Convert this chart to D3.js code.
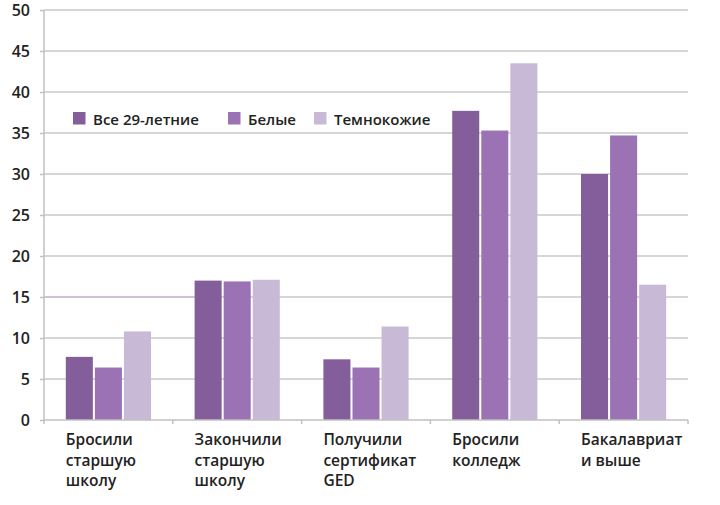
<!DOCTYPE html>
<html><head><meta charset="utf-8">
<script src="https://cdn.jsdelivr.net/npm/d3@7"></script>
<style>
html,body{margin:0;padding:0;background:#fff;}
svg{display:block;font-family:"Open Sans",sans-serif;}
</style></head>
<body><svg id="c" width="720" height="505"></svg>
<script>
const categories = [
  ["Бросили","старшую","школу"],
  ["Закончили","старшую","школу"],
  ["Получили","сертификат","GED"],
  ["Бросили","колледж"],
  ["Бакалавриат","и выше"]
];
const seriesNames = ["Все 29-летние","Белые","Темнокожие"];
const allValues   = [7.7, 17.0, 7.4, 37.7, 30.0];
const whiteValues = [6.4, 16.9, 6.4, 35.3, 34.7];
const blackValues = [10.8, 17.1, 11.4, 43.5, 16.5];
const yTicks = [0,5,10,15,20,25,30,35,40,45,50];
const colors = ["#845e9b","#9b73b5","#c8b9d7"];

const svg = d3.select("#c");
const L = 44, R = 688, T = 10, B = 420;
const catKeys = categories.map((c,i)=>i);
const x0 = d3.scaleBand().domain(catKeys).range([L,R]).padding(0);
const x1 = d3.scaleBand().domain(d3.range(3)).range([0,x0.bandwidth()]).paddingInner(0.07).paddingOuter(0.75);
const y = d3.scaleLinear().domain([0,50]).range([B,T]);
const seriesVals = [allValues, whiteValues, blackValues];

// gridlines
svg.append("g").selectAll("line").data(yTicks.filter(d=>d>0)).join("line")
  .attr("x1",L).attr("x2",R).attr("y1",d=>y(d)).attr("y2",d=>y(d))
  .attr("stroke","#c9c9c9").attr("stroke-width",1.5);
// lavender segment on 15 line
svg.append("line").attr("x1",L).attr("x2",x0(1)+x1(0)).attr("y1",y(15)).attr("y2",y(15))
  .attr("stroke","#cdbbd9").attr("stroke-width",1.5);

// bars
const g = svg.append("g");
catKeys.forEach(ci=>{
  seriesVals.forEach((vals,si)=>{
    g.append("rect").attr("x",x0(ci)+x1(si)).attr("width",x1.bandwidth())
      .attr("y",y(vals[ci])).attr("height",y(0)-y(vals[ci])).attr("fill",colors[si]);
  });
});

// y axis
const yAx = svg.append("g").attr("transform",`translate(${L},0)`)
  .call(d3.axisLeft(y).tickValues(yTicks).tickSize(4).tickPadding(10).tickFormat(d3.format("d")));
yAx.select(".domain").attr("stroke","#c0c0c0").attr("stroke-width",1.5).attr("d",`M0,${T}V${B}`);
yAx.selectAll(".tick line").attr("stroke","#c0c0c0").attr("stroke-width",1.5);
yAx.selectAll(".tick text").attr("font-size",16).attr("font-weight",600).attr("fill","#222").attr("font-family","'Open Sans',sans-serif");

// x axis
svg.append("line").attr("x1",L).attr("x2",R).attr("y1",B).attr("y2",B).attr("stroke","#c0c0c0").attr("stroke-width",1.5);
svg.append("g").selectAll("line").data(catKeys.map(c=>x0(c)).concat([x0.range()[1]])).join("line")
  .attr("x1",d=>d).attr("x2",d=>d).attr("y1",B).attr("y2",B+4).attr("stroke","#c0c0c0").attr("stroke-width",1.5);

// category labels
catKeys.forEach(ci=>{
  const t = svg.append("text").attr("x",x0(ci)+x1(0)).attr("y",445)
    .attr("font-size",15.5).attr("font-weight",600).attr("fill","#222");
  categories[ci].forEach((line,li)=>{
    t.append("tspan").attr("x",x0(ci)+x1(0)).attr("dy",li===0?0:20.5).text(line);
  });
});

// legend
const legX = [73,228,314];
const leg = svg.append("g");
seriesNames.forEach((n,i)=>{
  leg.append("rect").attr("x",legX[i]).attr("y",112).attr("width",12.5).attr("height",12.5).attr("fill",colors[i]);
  leg.append("text").attr("x",legX[i]+20).attr("y",124.5).attr("font-size",15).attr("font-weight",600).attr("fill","#222").text(n);
});
</script></body></html>
